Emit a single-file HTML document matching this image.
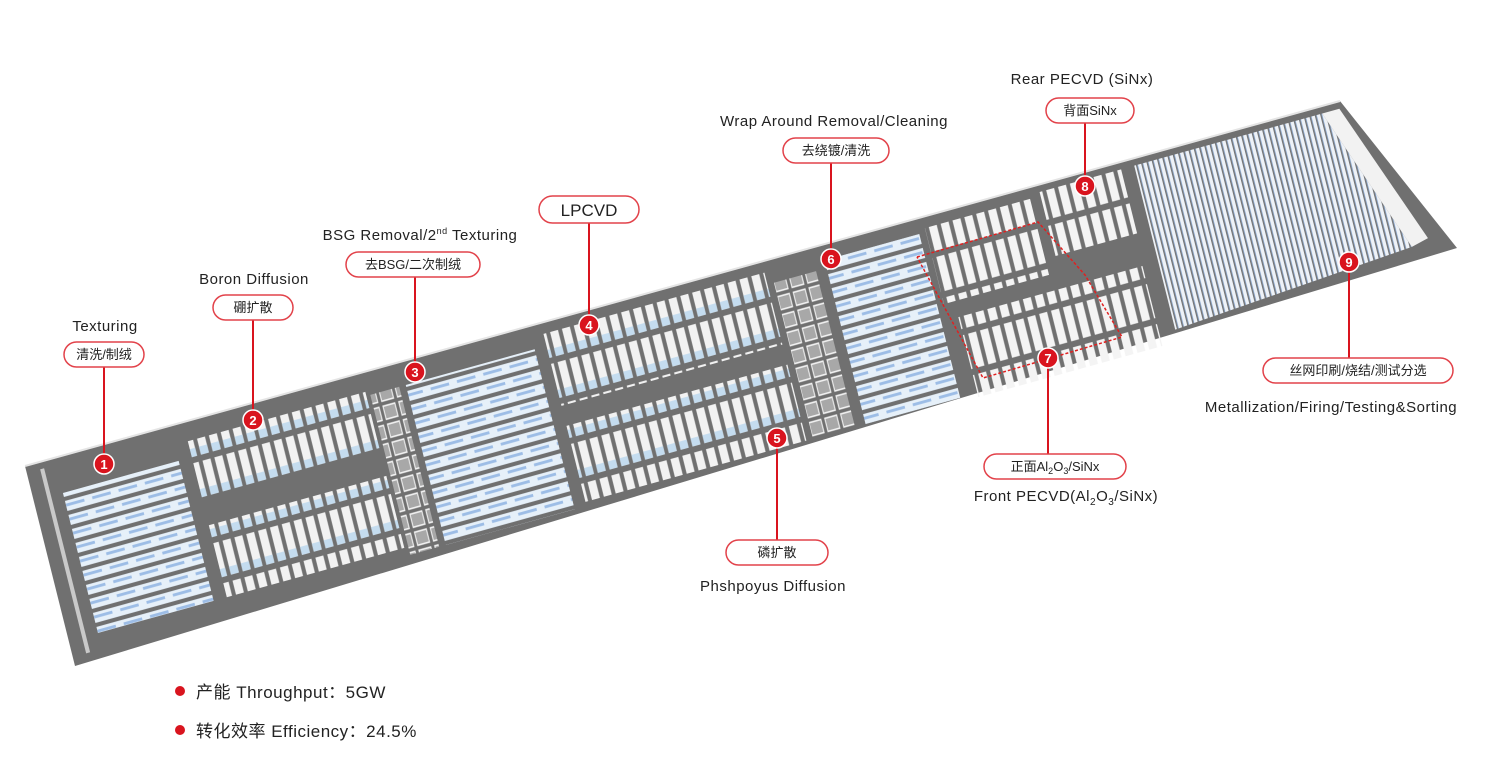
<!DOCTYPE html>
<html><head><meta charset="utf-8"><style>
html,body{margin:0;padding:0;background:#fff;}
body{width:1500px;height:765px;overflow:hidden;position:relative;font-family:"Liberation Sans","Noto Sans CJK SC",sans-serif;}
svg{position:absolute;left:0;top:0;}
</style></head><body>
<svg width="1500" height="765" viewBox="0 0 1500 765" xmlns="http://www.w3.org/2000/svg">
<defs>
 <pattern id="vbars" width="9" height="20" patternUnits="userSpaceOnUse">
  <rect x="1" y="1" width="6" height="17" fill="#f4f4f4"/>
 </pattern>
 <pattern id="vbarsB" width="9" height="20" patternUnits="userSpaceOnUse">
  <rect x="1" y="1" width="6" height="17" fill="#f2f2f2"/>
  <rect x="1" y="14" width="6" height="4" fill="#c4dcef"/>
 </pattern>
 <pattern id="hrows" width="20" height="7" patternUnits="userSpaceOnUse">
  <rect x="0" y="1" width="20" height="5" fill="#e6f0f9"/>
  <rect x="2" y="2.4" width="14" height="1.4" fill="#9dbde6"/>
 </pattern>
 <pattern id="dark" width="12" height="9" patternUnits="userSpaceOnUse">
  <rect x="1" y="1" width="9" height="6.5" fill="#a8a8a8" stroke="#f0f0f0" stroke-width="0.8"/>
 </pattern>
 <pattern id="metal" width="4" height="20" patternUnits="userSpaceOnUse">
  <rect x="0.3" y="0" width="3" height="20" fill="#eef2f7"/>
  <rect x="0.3" y="0" width="0.5" height="20" fill="#7f9fcc"/>
 </pattern>
</defs>
<polygon points="25,466 1340,101 1457,248 75,666" fill="#707070"/>
<polyline points="25,466 1340,101" stroke="#e4e4e4" stroke-width="2" fill="none"/>
<g transform="matrix(1.315,-0.365,0.5,2.0,25,465)">
 <rect x="22" y="18" width="88" height="70" fill="url(#hrows)"/>
 <rect x="10" y="4" width="3" height="92" fill="#c9c9c9"/>
 <rect x="120" y="10" width="135" height="30" fill="url(#vbarsB)"/>
 <rect x="120" y="52" width="135" height="36" fill="url(#vbarsB)"/>
 <rect x="258" y="12" width="22" height="80" fill="url(#dark)"/>
 <rect x="285" y="12" width="98" height="80" fill="url(#hrows)"/>
 <rect x="392" y="6" width="168" height="36" fill="url(#vbarsB)"/>
 <rect x="392" y="52" width="168" height="38" fill="url(#vbarsB)"/>
 <rect x="565" y="12" width="32" height="78" fill="url(#dark)"/>
 <rect x="605" y="8" width="72" height="82" fill="url(#hrows)"/>
 <rect x="682" y="6" width="80" height="38" fill="url(#vbars)"/>
 <rect x="690" y="52" width="140" height="40" fill="url(#vbars)"/>
 <rect x="770" y="4" width="62" height="32" fill="url(#vbars)"/>
 <polygon points="842,4 985,4 1025,78 842,86" fill="url(#metal)"/>
 <polygon points="985,4 998,4 1038,76 1025,78" fill="#f2f2f2"/>
</g>
<polyline points="917,257 1038,222 1085,275 1122,337 983,378 917,257" fill="none" stroke="#e02020" stroke-width="1.5" stroke-dasharray="3,2"/>
<g stroke="#d9141e" stroke-width="2" fill="none">
 <line x1="104" y1="367" x2="104" y2="455"/>
 <line x1="253" y1="320" x2="253" y2="411"/>
 <line x1="415" y1="277" x2="415" y2="363"/>
 <line x1="589" y1="223" x2="589" y2="316"/>
 <line x1="831" y1="163" x2="831" y2="250"/>
 <line x1="1085" y1="123" x2="1085" y2="177"/>
 <line x1="1349" y1="270" x2="1349" y2="358"/>
 <line x1="1048" y1="366" x2="1048" y2="454"/>
 <line x1="777" y1="447" x2="777" y2="540"/>
</g>
<g fill="#fff" stroke="#e2424a" stroke-width="1.5">
 <rect x="64" y="342" width="80" height="25" rx="12.5"/>
 <rect x="213" y="295" width="80" height="25" rx="12.5"/>
 <rect x="346" y="252" width="134" height="25" rx="12.5"/>
 <rect x="539" y="196" width="100" height="27" rx="13.5"/>
 <rect x="783" y="138" width="106" height="25" rx="12.5"/>
 <rect x="1046" y="98" width="88" height="25" rx="12.5"/>
 <rect x="1263" y="358" width="190" height="25" rx="12.5"/>
 <rect x="984" y="454" width="142" height="25" rx="12.5"/>
 <rect x="726" y="540" width="102" height="25" rx="12.5"/>
</g>
<g fill="#d9141e" stroke="#fff" stroke-width="1.5">
 <circle cx="104" cy="464" r="10"/><circle cx="253" cy="420" r="10"/><circle cx="415" cy="372" r="10"/>
 <circle cx="589" cy="325" r="10"/><circle cx="777" cy="438" r="10"/><circle cx="831" cy="259" r="10"/>
 <circle cx="1048" cy="358" r="10"/><circle cx="1085" cy="186" r="10"/><circle cx="1349" cy="262" r="10"/>
</g>
<g fill="#fff" font-family="Liberation Sans, sans-serif" font-weight="bold" font-size="13" text-anchor="middle">
 <text x="104" y="469">1</text><text x="253" y="425">2</text><text x="415" y="377">3</text>
 <text x="589" y="330">4</text><text x="777" y="443">5</text><text x="831" y="264">6</text>
 <text x="1048" y="363">7</text><text x="1085" y="191">8</text><text x="1349" y="267">9</text>
</g>
<g fill="#222" font-size="15" text-anchor="middle" font-family="Liberation Sans, Noto Sans CJK SC, sans-serif" letter-spacing="0.5">
 <text x="105" y="331">Texturing</text>
 <text x="254" y="284">Boron Diffusion</text>
 <text x="420" y="240">BSG Removal/2<tspan font-size="9" dy="-6">nd</tspan><tspan dy="6"> Texturing</tspan></text>
 <text x="834" y="126">Wrap Around Removal/Cleaning</text>
 <text x="1082" y="84">Rear PECVD (SiNx)</text>
 <text x="1331" y="412">Metallization/Firing/Testing&amp;Sorting</text>
 <text x="1066" y="501">Front PECVD(Al<tspan font-size="10" dy="4">2</tspan><tspan dy="-4">O</tspan><tspan font-size="10" dy="4">3</tspan><tspan dy="-4">/SiNx)</tspan></text>
 <text x="773" y="591">Phshpoyus Diffusion</text>
</g>
<g fill="#222" font-size="13" text-anchor="middle" font-family="Liberation Sans, Noto Sans CJK SC, sans-serif">
 <text x="104" y="359">清洗/制绒</text>
 <text x="253" y="312">硼扩散</text>
 <text x="413" y="269">去BSG/二次制绒</text>
 <text x="589" y="216" font-size="17">LPCVD</text>
 <text x="836" y="155">去绕镀/清洗</text>
 <text x="1090" y="115">背面SiNx</text>
 <text x="1358" y="375">丝网印刷/烧结/测试分选</text>
 <text x="1055" y="471">正面Al<tspan font-size="9" dy="3">2</tspan><tspan dy="-3">O</tspan><tspan font-size="9" dy="3">3</tspan><tspan dy="-3">/SiNx</tspan></text>
 <text x="777" y="557">磷扩散</text>
</g>
<circle cx="180" cy="691" r="5" fill="#d9141e"/>
<circle cx="180" cy="730" r="5" fill="#d9141e"/>
<g fill="#222" font-size="17" font-family="Liberation Sans, Noto Sans CJK SC, sans-serif" letter-spacing="0.5">
 <text x="196" y="698">产能 Throughput：5GW</text>
 <text x="196" y="737">转化效率 Efficiency：24.5%</text>
</g>
</svg>
</body></html>
